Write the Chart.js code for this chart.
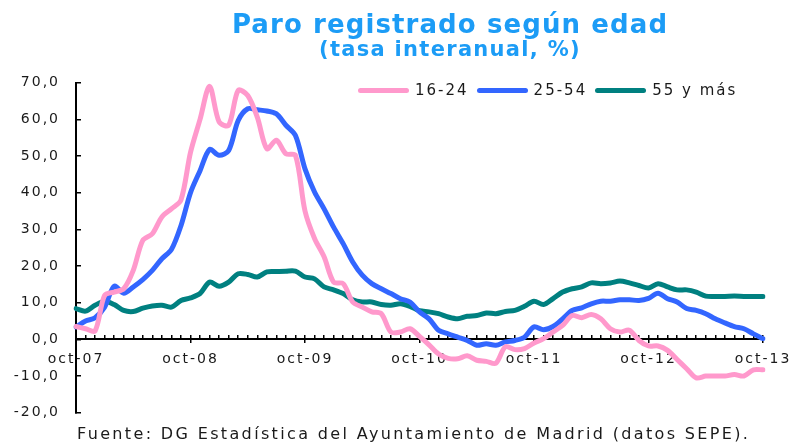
<!DOCTYPE html>
<html lang="es">
<head>
    <meta charset="UTF-8">
    <title>Paro registrado según edad</title>
    <script src="https://cdn.jsdelivr.net/npm/chart.js"></script>
    <style>
        body { margin: 0; background: #fff; }
        #wrap { position: relative; width: 794px; height: 443px; overflow: hidden; }
        #title, #subtitle {
            position: absolute; left: 0; width: 900px; text-align: center; white-space: nowrap;
            font-family: "DejaVu Sans", Verdana, sans-serif; font-weight: bold; color: #1c9cf6;
        }
        #title { top: 9px; font-size: 26px; line-height: 30px; letter-spacing: 1.1px; }
        #subtitle { top: 37px; font-size: 21px; line-height: 25px; letter-spacing: 1.3px; }
        #legend {
            position: absolute; left: 358px; top: 81px; display: flex; align-items: center;
            font-family: "DejaVu Sans", sans-serif; font-size: 15px; line-height: 18px;
            letter-spacing: 2px; color: #1a1a1a;
        }
        #legend .item { display: flex; align-items: center; margin-right: 8px; }
        #legend .swatch { width: 51px; height: 5px; border-radius: 3px; margin-right: 6px; }
        #source {
            position: absolute; left: 77px; top: 424px; white-space: nowrap;
            font-family: "DejaVu Sans", sans-serif; font-size: 16px; line-height: 20px;
            letter-spacing: 2.35px; color: #1a1a1a;
        }
    </style>
</head>
<body>
<div id="wrap">
    <canvas id="chart"></canvas>
    <div id="title">Paro registrado según edad</div>
    <div id="subtitle">(tasa interanual, %)</div>
    <div id="legend"></div>
    <div id="source">Fuente: DG Estadística del Ayuntamiento de Madrid (datos SEPE).</div>
</div>

<script>
    // months, oct-07 .. oct-13
    const months = [
        'oct-07', 'nov-07', 'dic-07', 'ene-08', 'feb-08', 'mar-08', 'abr-08', 'may-08', 'jun-08', 'jul-08', 'ago-08', 'sep-08',
        'oct-08', 'nov-08', 'dic-08', 'ene-09', 'feb-09', 'mar-09', 'abr-09', 'may-09', 'jun-09', 'jul-09', 'ago-09', 'sep-09',
        'oct-09', 'nov-09', 'dic-09', 'ene-10', 'feb-10', 'mar-10', 'abr-10', 'may-10', 'jun-10', 'jul-10', 'ago-10', 'sep-10',
        'oct-10', 'nov-10', 'dic-10', 'ene-11', 'feb-11', 'mar-11', 'abr-11', 'may-11', 'jun-11', 'jul-11', 'ago-11', 'sep-11',
        'oct-11', 'nov-11', 'dic-11', 'ene-12', 'feb-12', 'mar-12', 'abr-12', 'may-12', 'jun-12', 'jul-12', 'ago-12', 'sep-12',
        'oct-12', 'nov-12', 'dic-12', 'ene-13', 'feb-13', 'mar-13', 'abr-13', 'may-13', 'jun-13', 'jul-13', 'ago-13', 'sep-13',
        'oct-13'
    ];

    const age16to24 = [
        3.5, 2.9, 2.3, 12.0, 12.9, 13.8, 18.8, 27.0, 28.8, 33.4, 35.6, 38.0,
        51.0, 60.0, 69.0, 59.3, 58.4, 67.9, 66.5, 60.6, 52.0, 54.3, 50.6, 50.2,
        35.0, 27.5, 22.5, 15.6, 15.2, 10.2, 8.8, 7.5, 7.0, 2.0, 2.0, 2.9,
        0.8, -1.5, -4.0, -5.2, -5.3, -4.5, -5.7, -6.0, -6.5, -2.0, -2.8, -2.5,
        -1.0, 0.2, 2.0, 3.8, 6.5, 5.9, 6.8, 5.6, 2.9, 2.0, 2.5, -0.3,
        -1.8, -1.8, -3.0, -5.5, -8.0, -10.5, -10.0, -10.0, -10.0, -9.6, -10.0, -8.3,
        -8.3
    ];

    const age25to54 = [
        3.4, 5.0, 5.9, 8.8, 14.5, 12.6, 14.3, 16.3, 18.8, 22.0, 24.5, 31.0,
        40.0, 46.0, 51.8, 50.2, 51.5, 59.7, 62.9, 62.6, 62.3, 61.5, 58.4, 55.6,
        46.5, 40.2, 35.6, 30.6, 26.1, 21.1, 17.5, 15.2, 13.8, 12.5, 11.1, 10.2,
        7.5, 5.6, 2.5, 1.5, 0.6, -0.3, -1.6, -1.2, -1.6, -0.7, -0.3, 0.6,
        3.4, 2.6, 3.5, 5.6, 7.9, 8.6, 9.7, 10.4, 10.4, 10.8, 10.8, 10.6,
        11.2, 12.6, 11.1, 10.2, 8.4, 7.9, 7.0, 5.6, 4.5, 3.5, 2.9, 1.5,
        0.2
    ];

    const age55plus = [
        8.4, 7.7, 9.3, 10.4, 9.5, 7.9, 7.6, 8.5, 9.1, 9.3, 8.8, 10.6,
        11.3, 12.5, 15.6, 14.5, 15.6, 17.9, 17.7, 17.0, 18.4, 18.5, 18.6, 18.6,
        17.0, 16.5, 14.3, 13.5, 12.5, 10.8, 10.2, 10.2, 9.5, 9.3, 9.7, 9.0,
        7.8, 7.5, 7.0, 6.1, 5.6, 6.3, 6.5, 7.2, 7.0, 7.6, 7.9, 9.0,
        10.4, 9.5, 11.1, 12.9, 13.8, 14.3, 15.4, 15.2, 15.4, 15.9, 15.4, 14.7,
        14.0, 15.2, 14.3, 13.5, 13.5, 12.9, 11.8, 11.7, 11.7, 11.8, 11.7, 11.7,
        11.7
    ];

    const seriesNames = ['16-24', '25-54', '55 y más'];
    const seriesColors = ['#ff99cc', '#3366ff', '#008080'];
    const yMin = -20, yMax = 70, yStep = 10;

    const tickFont = { family: 'DejaVu Sans', size: 14 };

    // wider letter spacing for the axis labels, like the original
    const spacing = {
        id: 'spacing',
        beforeDraw(chart) { chart.ctx.letterSpacing = '2px'; }
    };

    function lineSet(label, data, color) {
        return {
            label: label,
            data: data,
            borderColor: color,
            backgroundColor: color,
            borderWidth: 5,
            pointRadius: 0,
            tension: 0.3,
            borderCapStyle: 'round',
            borderJoinStyle: 'round'
        };
    }

    const chart = new Chart(document.getElementById('chart'), {
        type: 'line',
        data: {
            labels: months,
            datasets: [
                lineSet(seriesNames[0], age16to24, seriesColors[0]),
                lineSet(seriesNames[1], age25to54, seriesColors[1]),
                lineSet(seriesNames[2], age55plus, seriesColors[2])
            ]
        },
        options: {
            responsive: true,
            maintainAspectRatio: false,
            animation: false,
            layout: { padding: { top: 82.7, bottom: 30.3, left: 0, right: 31 } },
            plugins: {
                legend: { display: false },
                title: { display: false },
                tooltip: { enabled: false }
            },
            scales: {
                x: {
                    type: 'category',
                    position: { y: 0 },
                    afterFit(scale) { scale.height = 0; },
                    grid: { drawOnChartArea: false, tickLength: -5, color: '#000', lineWidth: 1.5 },
                    border: { color: '#000', width: 2 },
                    ticks: { display: false }
                },
                x2: {
                    type: 'category',
                    position: { y: 0 },
                    afterFit(scale) { scale.height = 0; },
                    grid: {
                        drawOnChartArea: false,
                        tickLength: 4,
                        lineWidth: 1.5,
                        color: c => (c.tick && c.tick.label) ? '#000' : 'rgba(0,0,0,0)'
                    },
                    border: { display: false },
                    ticks: {
                        autoSkip: false,
                        maxRotation: 0,
                        padding: 8,
                        font: tickFont,
                        color: '#1a1a1a',
                        callback: function (value) {
                            const l = this.getLabelForValue(value);
                            return l.startsWith('oct') ? l : '';
                        }
                    }
                },
                y: {
                    min: yMin,
                    max: yMax,
                    afterFit(scale) { scale.width = 76; },
                    grid: { drawOnChartArea: false, tickLength: -5, color: '#000', lineWidth: 1.5 },
                    border: { color: '#000', width: 2 },
                    ticks: {
                        stepSize: yStep,
                        padding: 21,
                        font: tickFont,
                        color: '#1a1a1a',
                        callback: v => v.toFixed(1).replace('.', ',')
                    }
                }
            }
        },
        plugins: [spacing]
    });

    // legend built from the datasets
    const legend = document.getElementById('legend');
    chart.data.datasets.forEach(ds => {
        const item = document.createElement('div');
        item.className = 'item';
        const sw = document.createElement('span');
        sw.className = 'swatch';
        sw.style.background = ds.borderColor;
        const txt = document.createElement('span');
        txt.textContent = ds.label;
        item.appendChild(sw);
        item.appendChild(txt);
        legend.appendChild(item);
    });
</script>
</body>
</html>
